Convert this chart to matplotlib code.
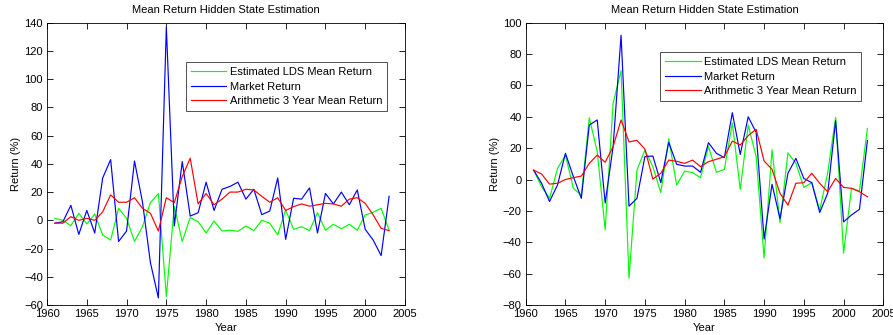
import matplotlib
matplotlib.use("Agg")
import matplotlib.pyplot as plt
import numpy as np

plt.rcParams['font.family'] = ['Liberation Sans', 'DejaVu Sans']

years = list(range(1961, 2004))

# Left panel
left_lds = [1.4, 0, -3.8, 5, -2.6, 4.5, -10.4, -14, 8.5, 1.4, -15, -4.5, 12.5, 19, -54,
            10, -15, 2, -1, -9, -0.5, -7.6, -7, -7.8, -4, -7.3, 0, -2, -10.4, 7.3,
            -6.4, -4.5, -7.3, 5.4, -7, -2.8, -6, -2.8, -7, 3.8, 5.7, 8.5, -7]
left_market = [-2, -1, 10.6, -10, 7, -9, 30, 43, -15, -7.6, 42, 13, -30, -55, 137,
               -4, 41.6, 3, 5.4, 27, 7, 22, 24, 27, 15, 22, 4, 6.6, 30, -13.5,
               15.6, 15, 23, -9, 19, 11.6, 20, 11, 21.5, -6.4, -14, -25, 17]
left_arith = [-2, -2, 2.6, 0, 1.4, 0, 6, 18, 12.8, 12.8, 16, 8.5, 5, -7.6, 16,
              12.5, 31, 44, 11.6, 19, 11, 15, 20, 20, 22, 21.5, 17, 12.8, 16, 7,
              9.7, 11.6, 10, 11, 12, 11.6, 10, 15, 16, 12, 3.8, -5.7, -7.3]

# Right panel
right_lds = [6, -4.6, -12, 7, 15.6, -5.6, -10, 39.4, 17.7, -32, 48.6, 69.4, -62.9, 6,
             18.8, 8.2, -8.4, 26, -3.5, 5.4, 4.4, 1.2, 21, 4.6, 6.5, 36, -6.3, 34.7,
             14.6, -50, 19, -27.5, 17, 10.3, -5, -2, -19.4, 4, 39.6, -47, -5.6, -7.3, 32.6]
right_market = [6, -2.4, -14, -3.5, 16.7, 1.8, -12, 34.7, 38, -15, 21, 92, -17, -12,
                14.6, 15, -2, 23.7, 9.7, 8.6, 8.6, 4.6, 23.5, 16.7, 14, 42.6, 16, 40,
                30, -38, -3, -25, 4, 13.5, 0.7, -2, -21, -8.8, 37.5, -27, -22.6, -19, 24.8]
right_arith = [6, 3.5, -2.9, -2.4, 0, 1.2, 2.2, 10.3, 15.6, 11, 21, 38, 24, 25, 19.4,
               0.3, 4, 12.4, 11.6, 10.3, 12.4, 8.2, 11.4, 12.9, 14.6, 24.5, 22, 28, 32,
               11.8, 6.5, -8.8, -16.3, -2.4, -2, 4, -2.4, -7.8, 0.7, -5, -5.6, -7.8, -11]

labels = ['Estimated LDS Mean Return', 'Market Return', 'Arithmetic 3 Year Mean Return']
title = 'Mean Return Hidden State Estimation'
xticks = list(range(1960, 2006, 5))

fig = plt.figure(figsize=(8.93, 3.35), dpi=100)
ax1 = fig.add_axes([47 / 893, 30 / 335, 358 / 893, 282.3 / 335])
ax2 = fig.add_axes([525.7 / 893, 30 / 335, 357.6 / 893, 282.3 / 335])

panels = [
    (ax1, left_lds, left_market, left_arith, (-60, 140), range(-60, 141, 20),
     (185.7, 62)),
    (ax2, right_lds, right_market, right_arith, (-80, 100), range(-80, 101, 20),
     (660, 52)),
]

for ax, lds, mkt, ari, ylim, yt, corner in panels:
    l1, = ax.plot(years, lds, color=(0, 1, 0), lw=0.85)
    l2, = ax.plot(years, mkt, color=(0, 0, 1), lw=0.85)
    l3, = ax.plot(years, ari, color=(1, 0, 0), lw=0.85)
    ax.set_xlim(1960, 2005)
    ax.set_ylim(*ylim)
    ax.set_xticks(xticks)
    ax.set_yticks(list(yt))
    ax.tick_params(direction='in', top=True, right=True, labelsize=8, length=4,
                   width=0.6, pad=3)
    for s in ax.spines.values():
        s.set_linewidth(0.6)
    ax.set_title(title, fontsize=8, pad=7)
    ax.set_xlabel('Year', fontsize=8, labelpad=3)
    ax.set_ylabel('Return (%)', fontsize=8, labelpad=2)
    x0, y0 = corner
    leg = ax.legend([l1, l2, l3], labels, loc='upper left',
                    bbox_to_anchor=(x0 / 893, 1 - y0 / 335), bbox_transform=fig.transFigure,
                    fontsize=8, frameon=True, fancybox=False, edgecolor='black',
                    handlelength=3.2, handletextpad=0.3, borderpad=0.45,
                    labelspacing=0.42, borderaxespad=0)
    leg.get_frame().set_linewidth(0.6)

fig.savefig('out.png', dpi=100, facecolor='white')
